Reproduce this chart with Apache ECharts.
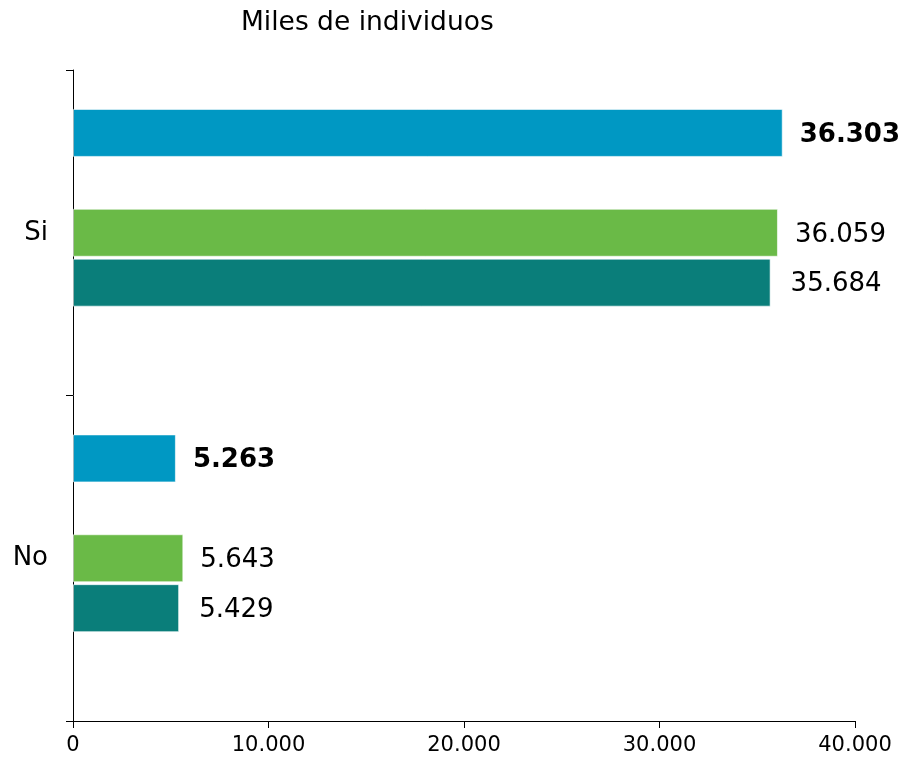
<!DOCTYPE html>
<html>
<head>
<meta charset="utf-8">
<script src="https://cdn.jsdelivr.net/npm/echarts@6/dist/echarts.min.js"></script>
<style>html,body{margin:0;padding:0;background:#fff;}#c{width:905px;height:761px;}</style>
</head>
<body>
<div id="c"></div>
<script>
var categories = ['Si', 'No'];
var serie1 = [36303, 5263];
var serie2 = [36059, 5643];
var serie3 = [35684, 5429];
var xTicks = [0, 10000, 20000, 30000, 40000];
var titleText = 'Miles de individuos';

function fmt(v) {
  return String(Math.round(v)).replace(/\B(?=(\d{3})+(?!\d))/g, '.');
}
var FONT = 'DejaVu Sans';
var chart = echarts.init(document.getElementById('c'), null, {renderer: 'canvas'});
function barSeries(name, data, color, bold, dist) {
  return {
    name: name, type: 'bar', data: data, barWidth: 48, barGap: '4%',
    itemStyle: {color: color, borderColor: 'rgba(255,255,255,0.6)', borderWidth: 1},
    label: {
      show: data[0] != null, position: 'right', distance: dist, offset: [0, 2],
      formatter: function (p) { return fmt(p.value); },
      fontFamily: FONT, fontSize: 26, color: '#000', fontWeight: bold ? 'bold' : 'normal'
    },
    silent: true
  };
}
chart.setOption({
  animation: false,
  title: {text: titleText, left: 236, top: 5,
    textStyle: {fontFamily: FONT, fontSize: 26.5, fontWeight: 'normal', color: '#000'}},
  grid: {left: 73, right: 50, top: 70, bottom: 40, containLabel: false},
  xAxis: {
    type: 'value', min: xTicks[0], max: xTicks[xTicks.length - 1], interval: 10000,
    axisLine: {show: true, lineStyle: {color: '#000', width: 1}},
    axisTick: {show: true, length: 7, inside: false, lineStyle: {color: '#000'}},
    splitLine: {show: false},
    axisLabel: {fontFamily: FONT, fontSize: 21, color: '#000', margin: 14,
      formatter: function (v) { return fmt(v); }}
  },
  yAxis: {
    type: 'category', data: categories, inverse: true,
    axisLine: {show: true, lineStyle: {color: '#000', width: 1}},
    axisTick: {show: true, length: 7, lineStyle: {color: '#000'}},
    axisLabel: {fontFamily: FONT, fontSize: 26, color: '#000', margin: 25}
  },
  series: [
    barSeries('s1', serie1, '#0098c3', true, 17),
    barSeries('gap1', [null, null], 'transparent', false, 17),
    barSeries('s2', serie2, '#6aba47', false, 17),
    barSeries('s3', serie3, '#0a7e7a', false, 20),
    barSeries('gap2', [null, null], 'transparent', false, 17)
  ]
});
</script>
</body>
</html>
